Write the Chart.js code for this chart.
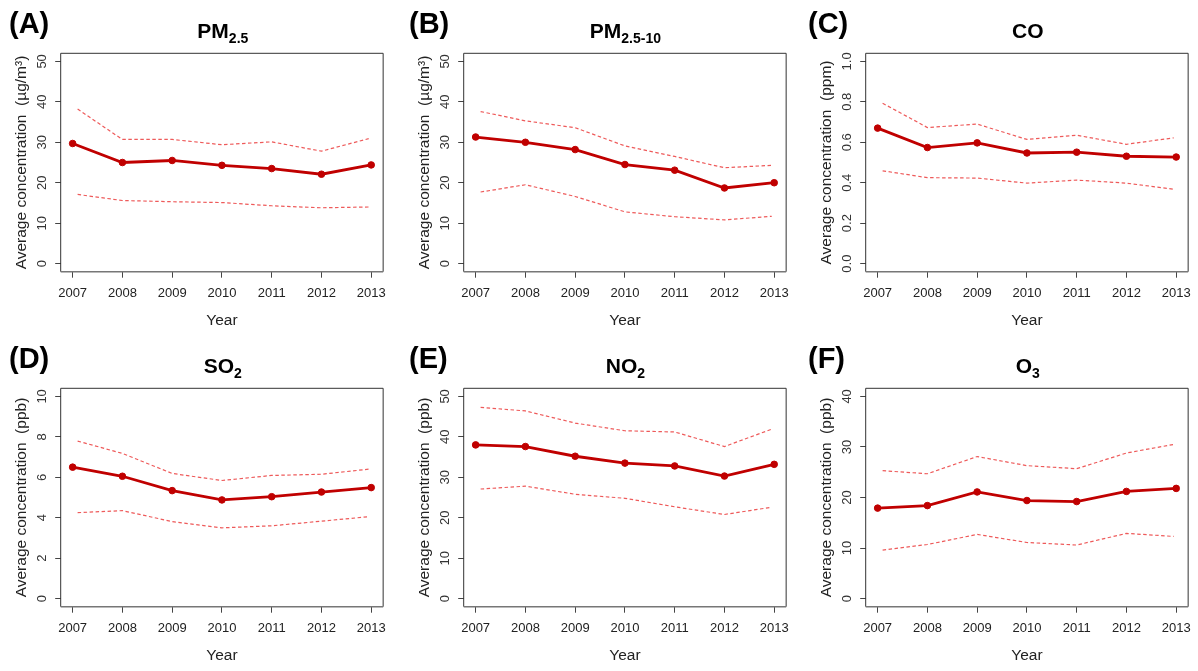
<!DOCTYPE html>
<html>
<head>
<meta charset="utf-8">
<script src="https://cdn.jsdelivr.net/npm/chart.js@4.4.0/dist/chart.umd.min.js"></script>
<style>
html,body{margin:0;padding:0;background:#fff;width:1198px;height:671px;overflow:hidden;font-family:"Liberation Sans",Arial,sans-serif}
.panel{position:absolute;width:394px;height:335px}
.tag{position:absolute;font-weight:bold;font-size:29px;line-height:30px;color:#000}
.ttl{position:absolute;font-weight:bold;font-size:21px;line-height:24px;text-align:center;color:#000;white-space:nowrap}
.ttl sub{font-size:14px;vertical-align:-5px;line-height:0}
</style>
</head>
<body>
<script>
// Six pollutant trend panels, 2007-2013: mean (solid) with dashed upper/lower band.
const YEARS  = [2007, 2008, 2009, 2010, 2011, 2012, 2013];
// the dashed band starts a touch after 2007 and stops just short of 2013
const BAND_X = [2007.1, 2008, 2009, 2010, 2011, 2012, 2012.95];

const PM25_MEAN  = [29.7, 25.0, 25.5, 24.3, 23.5, 22.1, 24.4];
const PM25_UPPER = [38.2, 30.7, 30.7, 29.4, 30.1, 27.8, 30.9];
const PM25_LOWER = [17.1, 15.6, 15.3, 15.1, 14.3, 13.8, 14.0];

const PMC_MEAN   = [31.3, 30.0, 28.2, 24.5, 23.1, 18.7, 20.0];
const PMC_UPPER  = [37.6, 35.3, 33.6, 29.1, 26.5, 23.7, 24.3];
const PMC_LOWER  = [17.7, 19.5, 16.6, 12.8, 11.6, 10.8, 11.7];

const CO_MEAN    = [0.670, 0.574, 0.597, 0.547, 0.551, 0.531, 0.527];
const CO_UPPER   = [0.793, 0.673, 0.690, 0.614, 0.635, 0.590, 0.622];
const CO_LOWER   = [0.459, 0.425, 0.423, 0.398, 0.413, 0.398, 0.368];

const SO2_MEAN   = [6.50, 6.05, 5.34, 4.88, 5.04, 5.27, 5.49];
const SO2_UPPER  = [7.79, 7.18, 6.19, 5.84, 6.09, 6.15, 6.40];
const SO2_LOWER  = [4.25, 4.35, 3.81, 3.50, 3.60, 3.83, 4.05];

const NO2_MEAN   = [38.0, 37.6, 35.2, 33.5, 32.8, 30.3, 33.2];
const NO2_UPPER  = [47.3, 46.4, 43.4, 41.5, 41.2, 37.6, 41.9];
const NO2_LOWER  = [27.1, 27.8, 25.8, 24.8, 22.7, 20.8, 22.6];

const O3_MEAN    = [17.9, 18.4, 21.1, 19.4, 19.2, 21.2, 21.8];
const O3_UPPER   = [25.3, 24.7, 28.1, 26.3, 25.7, 28.8, 30.5];
const O3_LOWER   = [9.6, 10.7, 12.7, 11.1, 10.6, 12.9, 12.3];

const TICKS_50  = [0, 10, 20, 30, 40, 50];
const TICKS_CO  = [0, 0.2, 0.4, 0.6, 0.8, 1.0];
const TICKS_SO2 = [0, 2, 4, 6, 8, 10];
const TICKS_O3  = [0, 10, 20, 30, 40];

const UG = 'Average concentration  (\u00b5g/m\u00b3)';
const PPM = 'Average concentration  (ppm)';
const PPB = 'Average concentration  (ppb)';

const PANELS = [
  {tag:'(A)', title:'PM<sub>2.5</sub>',    mean:PM25_MEAN, up:PM25_UPPER, lo:PM25_LOWER, ticks:TICKS_50,  dec:0, ylab:UG},
  {tag:'(B)', title:'PM<sub>2.5-10</sub>', mean:PMC_MEAN,  up:PMC_UPPER,  lo:PMC_LOWER,  ticks:TICKS_50,  dec:0, ylab:UG},
  {tag:'(C)', title:'CO',                  mean:CO_MEAN,   up:CO_UPPER,   lo:CO_LOWER,   ticks:TICKS_CO,  dec:1, ylab:PPM},
  {tag:'(D)', title:'SO<sub>2</sub>',      mean:SO2_MEAN,  up:SO2_UPPER,  lo:SO2_LOWER,  ticks:TICKS_SO2, dec:0, ylab:PPB},
  {tag:'(E)', title:'NO<sub>2</sub>',      mean:NO2_MEAN,  up:NO2_UPPER,  lo:NO2_LOWER,  ticks:TICKS_50,  dec:0, ylab:PPB},
  {tag:'(F)', title:'O<sub>3</sub>',       mean:O3_MEAN,   up:O3_UPPER,   lo:O3_LOWER,   ticks:TICKS_O3,  dec:0, ylab:PPB},
];

const FAM = '"Liberation Sans", Arial, sans-serif';
const COL_X = [0, 402.6, 805];
const ROW_Y = [0, 335];
const TAG_X = [9, 409, 808];
const BOX_L = 60.7, BOX_R = 385, BOX_T = 53.3, BOX_B = 271.7;
const MAIN = '#c00000', BAND = '#ee5a5a';

// R-style box + rotated y tick labels
const frame = {
  id:'frame',
  afterDraw(chart, args, opts){
    const {ctx, chartArea:a} = chart, y = chart.scales.y;
    ctx.save();
    ctx.strokeStyle='#333'; ctx.lineWidth=1;
    ctx.beginPath(); ctx.moveTo(a.left,a.bottom); ctx.lineTo(a.left,a.top); ctx.lineTo(a.right,a.top); ctx.lineTo(a.right,a.bottom); ctx.stroke();
    ctx.strokeStyle='#777'; ctx.lineWidth=1.5;
    ctx.beginPath(); ctx.moveTo(a.left,a.bottom); ctx.lineTo(a.right,a.bottom); ctx.stroke();
    ctx.fillStyle='#333'; ctx.font='13px '+FAM; ctx.textAlign='center'; ctx.textBaseline='middle';
    y.ticks.forEach(t=>{
      ctx.save(); ctx.translate(a.left-18.5, y.getPixelForValue(t.value)); ctx.rotate(-Math.PI/2);
      ctx.fillText(t.value.toFixed(opts.dec), 0, 0); ctx.restore();
    });
    ctx.restore();
  }
};

PANELS.forEach((p, i)=>{
  const c = i % 3, r = Math.floor(i / 3);
  const div = document.createElement('div');
  div.className='panel'; div.style.left=COL_X[c]+'px'; div.style.top=ROW_Y[r]+'px';
  const cv = document.createElement('canvas'); div.appendChild(cv);
  const ttl = document.createElement('div'); ttl.className='ttl'; ttl.innerHTML=p.title;
  ttl.style.left=BOX_L+'px'; ttl.style.width=(BOX_R-BOX_L)+'px'; ttl.style.top='19px';
  div.appendChild(ttl);
  document.body.appendChild(div);
  const tag = document.createElement('div'); tag.className='tag'; tag.textContent=p.tag;
  tag.style.left=TAG_X[c]+'px'; tag.style.top=(ROW_Y[r]+8)+'px';
  document.body.appendChild(tag);

  const t0 = p.ticks[0], t1 = p.ticks[p.ticks.length-1], pad = (t1-t0)*0.04;
  const xPad = (YEARS[6]-YEARS[0])*0.04;
  new Chart(cv, {
    type:'line',
    data:{datasets:[
      {data:BAND_X.map((x,k)=>({x, y:p.up[k]})), borderColor:BAND, borderWidth:1.2, borderDash:[3.5,2.5], pointRadius:0, tension:0},
      {data:BAND_X.map((x,k)=>({x, y:p.lo[k]})), borderColor:BAND, borderWidth:1.2, borderDash:[3.5,2.5], pointRadius:0, tension:0},
      {data:YEARS.map((x,k)=>({x, y:p.mean[k]})), borderColor:MAIN, borderWidth:2.8, pointRadius:3.3, pointBackgroundColor:MAIN, pointBorderColor:MAIN, pointBorderWidth:1, tension:0}
    ]},
    options:{
      responsive:true, maintainAspectRatio:false, animation:false,
      layout:{padding:{left:0, top:BOX_T, right:394-BOX_R, bottom:0}},
      plugins:{legend:{display:false}, tooltip:{enabled:false}, frame:{dec:p.dec}},
      scales:{
        x:{type:'linear', min:YEARS[0]-xPad, max:YEARS[6]+xPad,
           afterBuildTicks:s=>{ s.ticks = YEARS.map(v=>({value:v})); },
           afterFit:s=>{ s.height = 335-BOX_B; },
           grid:{drawOnChartArea:false, drawTicks:true, tickLength:6, color:'#444'},
           border:{display:false},
           ticks:{color:'#222', font:{size:13, family:FAM}, padding:8, maxRotation:0, autoSkip:false, callback:v=>String(v)},
           title:{display:true, text:'Year', color:'#222', font:{size:15.5, family:FAM}, padding:{top:0, bottom:5}}},
        y:{type:'linear', min:t0-pad, max:t1+pad,
           afterBuildTicks:s=>{ s.ticks = p.ticks.map(v=>({value:v})); },
           afterFit:s=>{ s.width = BOX_L; },
           grid:{drawOnChartArea:false, drawTicks:true, tickLength:5.5, color:'#444'},
           border:{display:false},
           ticks:{display:false},
           title:{display:true, text:p.ylab, color:'#222', font:{size:15.5, family:FAM}, padding:{top:12.4, bottom:0}}}
      }
    },
    plugins:[frame]
  });
});
</script>
</body>
</html>
